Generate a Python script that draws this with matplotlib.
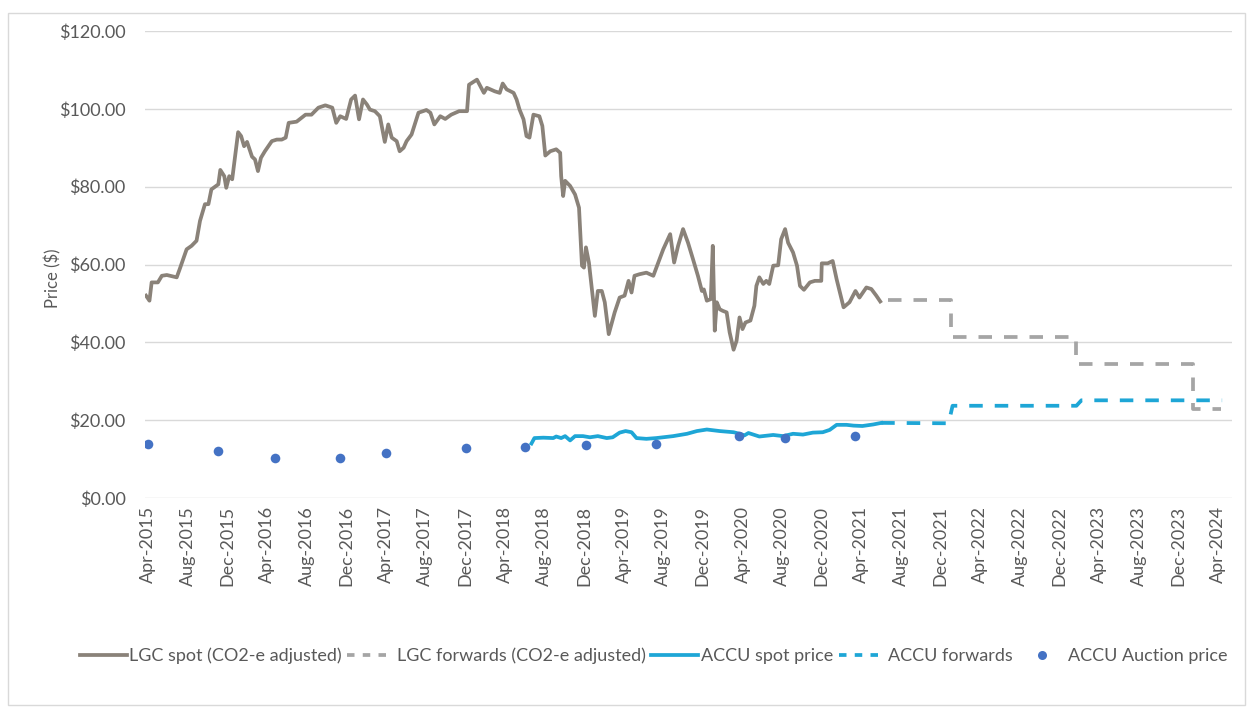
import numpy as np
import pandas as pd
import matplotlib
matplotlib.use("Agg")
import matplotlib.pyplot as plt
from matplotlib.lines import Line2D
from matplotlib.patches import Rectangle

# x values are months after Apr-2015
lgc_spot_m = [-0.2, 0.15, 0.37, 1.0, 1.4, 1.9, 2.9, 3.2, 3.9, 4.4, 4.9, 5.25, 5.75, 6.1, 6.4, 7.1, 7.3, 7.7,
              7.9, 8.2, 8.5, 9.1, 9.4, 9.7, 10.0, 10.5, 10.8, 11.1, 11.4, 11.8, 12.5, 13.0, 13.5, 13.9, 14.2,
              15.0, 15.9, 16.5, 17.2, 17.9, 18.6, 19.0, 19.4, 20.0, 20.5, 20.9, 21.3, 21.7, 22.1, 22.4, 22.9,
              23.4, 23.9, 24.25, 24.6, 25.1, 25.4, 25.8, 26.1, 26.6, 27.3, 28.1, 28.5, 28.9, 29.5, 30.0, 30.6,
              31.4, 32.2, 32.4, 33.2, 33.9, 34.2, 35.0, 35.5, 35.8, 36.2, 36.9, 37.2, 37.5, 37.9, 38.2, 38.5,
              38.9, 39.5, 39.8, 40.1, 40.6, 41.2, 41.6, 41.7, 41.9, 42.1, 42.6, 43.1, 43.5, 43.8, 44.0, 44.2,
              44.5, 44.8, 45.1, 45.4, 45.8, 46.1, 46.5, 47.1, 47.6, 48.1, 48.5, 48.8, 49.1, 49.6, 50.3, 51.0,
              51.5, 52.0, 52.3, 52.7, 53.1, 53.5, 54.0, 54.5, 55.0, 55.5, 55.9, 56.1, 56.4, 56.8, 57.0, 57.2,
              57.4, 57.7, 58.0, 58.4, 58.7, 59.1, 59.4, 59.7, 60.0, 60.3, 60.8, 61.2, 61.4, 61.7, 62.1, 62.4,
              62.7, 63.1, 63.6, 63.9, 64.3, 64.6, 65.1, 65.5, 65.8, 66.2, 66.8, 67.3, 67.95, 68.0, 68.6, 69.1,
              69.5, 70.2, 70.8, 71.4, 71.8, 72.5, 73.0, 73.5, 73.9]
lgc_spot = [52.0, 50.7, 55.4, 55.4, 57.1, 57.3, 56.7, 58.8, 63.9, 64.8, 66.1, 71.2, 75.5, 75.5, 79.3, 80.6, 84.3, 82.7,
            79.7, 82.7, 81.9, 94.0, 93.0, 90.4, 91.5, 87.7, 87.0, 84.0, 87.4, 89.1, 91.7, 92.1, 92.1, 92.6, 96.4,
            96.7, 98.5, 98.5, 100.3, 100.9, 100.3, 96.4, 98.1, 97.4, 102.4, 103.4, 97.3, 102.4, 101.1, 99.8, 99.4,
            98.1, 91.5, 96.0, 92.6, 91.7, 89.1, 90.0, 91.7, 93.4, 99.0, 99.7, 99.0, 96.0, 98.1, 97.4, 98.5,
            99.4, 99.4, 106.2, 107.5, 104.1, 105.4, 104.5, 104.1, 106.5, 105.0, 104.1, 102.4, 99.8, 97.3, 93.0, 92.6,
            98.5, 98.1, 95.6, 88.0, 89.1, 89.6, 88.7, 82.7, 77.6, 81.5, 80.2, 78.0, 74.6, 59.7, 59.2, 64.4,
            60.5, 53.7, 46.8, 53.2, 53.2, 50.3, 42.1, 47.7, 51.5, 52.0, 55.8, 52.8, 57.1, 57.5, 57.9, 57.1,
            60.5, 63.9, 65.6, 67.8, 60.5, 64.8, 69.1, 65.6, 61.4, 57.1, 53.2, 53.6, 50.7, 51.1, 64.8, 43.0,
            50.3, 48.5, 48.1, 47.7, 42.6, 38.1, 40.4, 46.4, 43.4, 45.1, 45.6, 49.4, 54.5, 56.7, 55.0, 55.8,
            55.0, 59.7, 59.8, 66.5, 69.1, 65.6, 63.1, 59.7, 54.5, 53.5, 55.4, 55.8, 55.8, 60.3, 60.3, 60.9,
            56.2, 49.0, 50.3, 53.2, 51.5, 54.1, 53.7, 52.0, 50.5]

lgc_fwd_m = [74.7, 81.0, 93.7, 105.5, 108.3]
lgc_fwd = [51.0, 41.4, 34.5, 22.9, 22.9]

accu_spot_m = [38.7, 39.0, 39.9, 40.9, 41.2, 41.7, 42.1, 42.6, 43.1, 43.9, 44.6, 45.4, 46.3, 46.9, 47.6, 48.2,
               48.8, 49.3, 50.3, 51.3, 53.0, 54.4, 55.4, 56.4, 57.7, 59.1, 59.7, 60.2, 60.6, 61.7, 63.1, 64.1,
               65.1, 66.1, 67.1, 68.1, 68.8, 69.5, 70.5, 71.2, 72.1, 73.2, 74.0]
accu_spot = [14.0, 15.4, 15.5, 15.4, 15.8, 15.4, 15.9, 14.8, 15.9, 15.9, 15.6, 15.9, 15.4, 15.6, 16.8, 17.2,
             16.9, 15.4, 15.2, 15.4, 15.9, 16.5, 17.2, 17.6, 17.2, 16.9, 16.5, 16.1, 16.7, 15.8, 16.2, 15.9,
             16.5, 16.3, 16.8, 16.9, 17.5, 18.8, 18.8, 18.6, 18.5, 18.9, 19.3]

accu_fwd_m = [74.0, 80.8, 81.2, 93.7, 94.2, 108.4]
accu_fwd = [19.3, 19.2, 23.7, 23.7, 25.1, 25.1]

auction_m = [0.0, 7.1, 12.8, 19.4, 24.0, 32.1, 38.0, 44.2, 51.3, 59.6, 64.3, 71.4]
auction = [13.8, 12.1, 10.2, 10.4, 11.5, 12.9, 13.2, 13.6, 14.0, 16.0, 15.5, 15.9]

tick_m = list(range(0, 109, 4))
tick_labels = pd.date_range("2015-04-01", periods=len(tick_m), freq="4MS").strftime("%b-%Y")

c_lgc = "#8a8279"
c_lgc_fwd = "#a5a5a5"
c_accu = "#1ea6d6"
c_dot = "#4472c4"
txt = "#595959"
lw = 2.7

plt.rcParams["font.family"] = ["Lato", "DejaVu Sans"]

fig = plt.figure(figsize=(12.5, 7.07), dpi=100)
fig.patches.append(Rectangle((8 / 1250, 1 - 705 / 707), 1237 / 1250, 692 / 707, transform=fig.transFigure,
                             fill=False, edgecolor="#d9d9d9", lw=1))
ax = fig.add_axes([145 / 1250, 1 - 498 / 707, 1087 / 1250, 467 / 707])

ax.plot(lgc_spot_m, lgc_spot, color=c_lgc, lw=lw, solid_joinstyle="round")
ax.plot(lgc_fwd_m, lgc_fwd, color=c_lgc_fwd, lw=lw, dashes=(3.6, 3.2), drawstyle="steps-post")
ax.plot(accu_spot_m, accu_spot, color=c_accu, lw=lw)
ax.plot(accu_fwd_m, accu_fwd, color=c_accu, lw=lw, dashes=(3.6, 3.2))
ax.scatter(auction_m, auction, s=48, color=c_dot, zorder=5, linewidths=0)

ax.set_xlim(-0.3, 109.4)
ax.set_ylim(0, 120)
ax.set_yticks(range(0, 121, 20))
ax.set_yticklabels([f"${v:.2f}" for v in range(0, 121, 20)])
ax.set_xticks(tick_m)
ax.set_xticklabels(tick_labels, rotation=90)
ax.tick_params(length=0, colors=txt, labelsize=13)
ax.tick_params(axis="y", pad=14)
ax.tick_params(axis="x", pad=6)
ax.grid(axis="y", color="#d9d9d9", lw=1)
ax.set_axisbelow(True)
for s in ax.spines.values():
    s.set_visible(False)
ax.set_ylabel("Price ($)", color=txt, fontsize=12)
ax.yaxis.set_label_coords(-0.077, 0.47)

handles = [
    Line2D([], [], color=c_lgc, lw=lw),
    Line2D([], [], color=c_lgc_fwd, lw=lw, dashes=(2, 2.2)),
    Line2D([], [], color=c_accu, lw=lw),
    Line2D([], [], color=c_accu, lw=lw, dashes=(2, 2.2)),
    Line2D([], [], color=c_dot, marker="o", ls="none", markersize=6.5, markeredgewidth=0),
]
labels = ["LGC spot (CO2-e adjusted)", "LGC forwards (CO2-e adjusted)", "ACCU spot price",
          "ACCU forwards", "ACCU Auction price"]
fig.legend(handles, labels, loc="center", bbox_to_anchor=(0.523, 1 - 656 / 707), ncol=5, frameon=False,
           fontsize=13, labelcolor=txt, handlelength=2.6, handletextpad=0.15, columnspacing=0.3)

fig.savefig("out.png", dpi=100)
